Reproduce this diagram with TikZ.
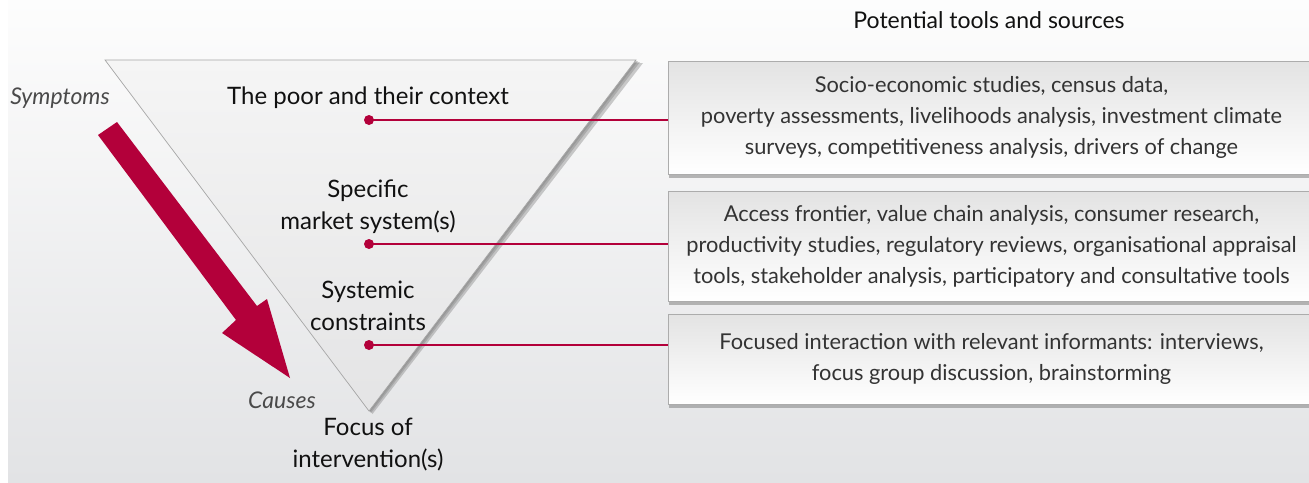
\documentclass[tikz,border=0pt]{standalone}
\usepackage{fontspec}
\setmainfont{Lato}
\usetikzlibrary{shadows,calc}
\definecolor{crim}{HTML}{B3003A}
\definecolor{boxtext}{HTML}{333333}
\definecolor{lbl}{HTML}{111111}
\definecolor{side}{HTML}{4A4A4A}
\tikzset{
  toolbox/.style={draw=gray!65, line width=0.8pt, top color=gray!22, bottom color=white,
    minimum width=647pt, align=center, text=boxtext, inner sep=0pt,
    font=\fontsize{21.8}{31}\selectfont,
    drop shadow={shadow xshift=1pt, shadow yshift=-4pt, fill=gray!85, opacity=0.65}},
  lvl/.style={align=center, text=lbl, font=\fontsize{24}{32}\selectfont, inner sep=0pt},
  sidelbl/.style={text=side, font=\fontsize{23}{24}\selectfont\itshape, inner sep=0pt},
  dot/.style={circle, fill=crim, minimum size=10pt, inner sep=0pt},
  link/.style={draw=crim, line width=2.6pt},
  tshadow/.style={fill=gray, opacity=0.4}
}
\begin{document}
\begin{tikzpicture}[x=1pt,y=-1pt]
\useasboundingbox (0,0) rectangle (1309,482);
\fill[white] (0,0) rectangle (1309,482);
\shade[top color={rgb,255:red,253;green,253;blue,253}, bottom color={rgb,255:red,226;green,227;blue,229}] (8,0) rectangle (1309,482);

% triangle
\coordinate (tl) at (105,60);
\coordinate (tr) at (636,60);
\coordinate (ap) at (369,411);
\fill[tshadow] ($(tl)+(7,3)$) -- ($(tr)+(7,3)$) -- ($(ap)+(3.5,3)$) -- cycle;
\fill[tshadow] ($(tl)+(4,2)$) -- ($(tr)+(4,2)$) -- ($(ap)+(2,2)$) -- cycle;
\fill[tshadow] ($(tl)+(2,1)$) -- ($(tr)+(2,1)$) -- ($(ap)+(1,1)$) -- cycle;
\shade[top color={rgb,255:red,245;green,245;blue,245}, bottom color={rgb,255:red,228;green,228;blue,229},
  draw=gray!70, line width=0.7pt]
  (tl) -- (tr) -- (ap) -- cycle;

% big arrow
\coordinate (a1) at (98,135);
\coordinate (a2) at (117,122);
\coordinate (a3) at (257,306);
\coordinate (a4) at (267,299);
\coordinate (tip) at (290,378);
\coordinate (a5) at (222,333);
\coordinate (a6) at (236,320);
\fill[crim] (a1) -- (a2) -- (a3) -- (a4) -- (tip) -- (a5) -- (a6) -- cycle;

% side labels
\node[sidelbl] (symp) at (60,98) {Symptoms};
\node[sidelbl] (caus) at (282,400) {Causes};

% level labels
\node[lvl] (poor) at (368,98) {The poor and their context};
\node[lvl] (mkt) at (368,207) {Specific\\market system(s)};
\node[lvl] (sys) at (368,306) {Systemic\\constraints};
\node[lvl] (foc) at (368,445) {Focus of\\intervention(s)};

% heading
\node[text=lbl, font=\fontsize{23}{24}\selectfont, inner sep=0pt] (head) at (989,20) {Potential tools and sources};

% boxes
\node[toolbox, minimum height=113pt] (b1) at (991.5,117.5) {Socio-economic studies, census data,\\poverty assessments, livelihoods analysis, investment climate\\surveys, competitiveness analysis, drivers of change};
\node[toolbox, minimum height=110pt] (b2) at (991.5,246) {Access frontier, value chain analysis, consumer research,\\productivity studies, regulatory reviews, organisational appraisal\\tools, stakeholder analysis, participatory and consultative tools};
\node[toolbox, minimum height=90pt] (b3) at (991.5,359) {Focused interaction with relevant informants: interviews,\\focus group discussion, brainstorming};

% dots and links
\node[dot] (d1) at (369,120) {};
\node[dot] (d2) at (369,244) {};
\node[dot] (d3) at (369,345) {};
\draw[link] (d1.center) -- (d1 -| b1.west);
\draw[link] (d2.center) -- (d2 -| b2.west);
\draw[link] (d3.center) -- (d3 -| b3.west);
\end{tikzpicture}
\end{document}
